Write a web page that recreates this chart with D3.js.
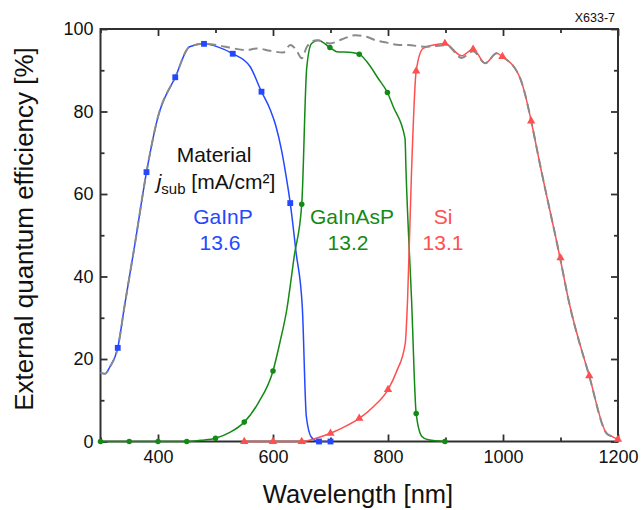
<!DOCTYPE html>
<html>
<head>
<meta charset="utf-8">
<script src="https://cdn.jsdelivr.net/npm/d3@7"></script>
<style>
    body { margin: 0; background: #fff; }
    svg { font-family: "Liberation Sans", Arial, sans-serif; }
</style>
</head>
<body>
<script>
'use strict';

// GaInP subcell (blue)
const gainpWl  = [300, 308, 316, 330, 342, 360, 380, 400, 430, 455, 480, 505, 530, 560, 580, 595, 605, 615, 622, 630, 640, 651, 658, 667, 680, 700];
const gainpEqe = [16.7, 16.4, 18, 22.7, 33, 48, 65.3, 78.7, 88.3, 95.7, 96.4, 95.6, 94, 90.9, 84.8, 80.5, 76.5, 70.5, 65, 57.8, 46, 32.5, 6, 1, 0, 0];
const gainpMarkWl  = [330, 380, 430, 480, 530, 580, 630, 680, 700];
const gainpMarkEqe = [22.7, 65.3, 88.3, 96.4, 94, 84.8, 57.8, 0, 0];

// GaInAsP subcell (green)
const gainaspWl  = [300, 350, 400, 450, 475, 500, 525, 550, 575, 600, 612, 624, 637, 650, 658.6, 667, 679, 687.5, 699, 711, 737, 750, 763, 783, 799, 809, 829.6, 831.3, 841, 849, 858.6, 870, 899];
const gainaspEqe = [0, 0, 0, 0, 0.3, 0.8, 2.2, 4.7, 9.5, 17.1, 24, 32, 45, 57.5, 90.5, 96.5, 97.3, 96.7, 95.5, 94.5, 94.3, 93.9, 92.1, 88, 84.6, 81.2, 73.5, 65.8, 34.3, 6.8, 1.3, 0.4, 0];
const gainaspMarkWl  = [300, 350, 400, 450, 500, 550, 600, 650, 699, 750, 799, 849, 899];
const gainaspMarkEqe = [0, 0, 0, 0, 0.8, 4.7, 17.1, 57.5, 95.5, 93.9, 84.6, 6.8, 0];

// Si subcell (red)
const siWl  = [550, 600, 650, 675, 700, 725, 750, 775, 800, 815, 830, 834, 841, 849, 861, 879, 899, 928, 948, 969, 989, 999, 1030, 1038, 1049, 1064, 1100, 1114, 1150, 1180, 1190, 1200];
const siEqe = [0, 0, 0, 0.8, 2, 3.6, 5.6, 8.5, 12.6, 17, 23.8, 34.3, 65.8, 89.8, 95.3, 96.1, 96.5, 93.5, 95.1, 91.7, 94.1, 93.3, 88, 84.4, 77.7, 67.4, 44, 34.3, 15.9, 2, 1.2, 0.5];
const siMarkWl  = [550, 600, 650, 700, 750, 800, 849, 899, 948, 999, 1049, 1100, 1150, 1200];
const siMarkEqe = [0, 0, 0, 2, 5.6, 12.6, 89.8, 96.5, 95.1, 93.3, 77.7, 44.5, 15.9, 0.5];

// sum of the subcells (grey dashed)
const totalWl  = [300, 308, 316, 330, 342, 360, 380, 400, 430, 455, 479, 502, 531, 554, 572, 595, 618, 630, 640, 650, 659, 676, 699, 720, 743, 763, 780, 798, 815, 835, 867, 902, 928, 948, 969, 989, 999, 1030, 1038, 1049, 1064, 1100, 1114, 1150, 1180, 1190, 1200];
const totalEqe = [16.7, 16.4, 18, 22.7, 33, 48, 65.3, 78.7, 88.3, 95.7, 96.4, 96.1, 95.3, 94.9, 95.3, 94.7, 94.3, 96.1, 95, 92.9, 95.7, 97.3, 96.5, 97.5, 98.5, 98.1, 97.2, 96.7, 96.2, 96.1, 95.7, 96.1, 93, 94.6, 91.7, 94.1, 93.3, 88, 84.4, 77.7, 67.4, 44, 34.3, 15.9, 2, 1.2, 0.8];

const xMajorTicks = [400, 600, 800, 1000, 1200];
const xMinorTicks = [300, 500, 700, 900, 1100];
const yMajorTicks = [0, 20, 40, 60, 80, 100];
const yMinorTicks = [10, 30, 50, 70, 90];

const cellNames = ['GaInP', 'GaInAsP', 'Si'];
const cellJsub  = ['13.6', '13.2', '13.1'];

(function() {

    const measurements = {
        width: 643,
        height: 510,
        left: 100.5,
        right: 618,
        top: 29,
        bottom: 441.5
    };

    const colors = {
        blue: '#2448ff',
        green: '#138a13',
        red: '#ff4f4f',
        grey: '#8a8a8a',
        axis: '#303030'
    };

    const svg = d3.select('body')
        .append('svg')
        .attr('width', measurements.width)
        .attr('height', measurements.height);

    const xScale = d3.scaleLinear()
        .domain([300, 1200])
        .range([measurements.left, measurements.right]);

    const yScale = d3.scaleLinear()
        .domain([0, 100])
        .range([measurements.bottom, measurements.top]);

    drawAxes();
    drawCurves();
    drawLabels();

    function zip(xs, ys) {
        return xs.map((x, i) => ({ x: x, y: ys[i] }));
    }

    function drawAxes() {
        // axis with inward ticks, labels only where asked
        function addAxis(axis, tx, ty, labels) {
            let g = svg.append('g')
                .attr('transform', 'translate(' + tx + ',' + ty + ')')
                .call(axis);
            g.select('.domain').remove();
            g.selectAll('.tick line')
                .attr('stroke', colors.axis)
                .attr('stroke-width', 1.8);
            if (!labels) g.selectAll('.tick text').remove();
            else g.selectAll('.tick text')
                .attr('fill', '#111')
                .style('font-size', '18px');
            return g;
        }

        addAxis(d3.axisBottom(xScale).tickValues(xMajorTicks).tickSize(-7).tickPadding(9).tickFormat(d3.format('d')), 0, measurements.bottom, true);
        addAxis(d3.axisBottom(xScale).tickValues(xMinorTicks).tickSize(-4), 0, measurements.bottom, false);
        addAxis(d3.axisTop(xScale).tickValues(xMajorTicks).tickSize(-7), 0, measurements.top, false);
        addAxis(d3.axisTop(xScale).tickValues(xMinorTicks).tickSize(-4), 0, measurements.top, false);

        addAxis(d3.axisLeft(yScale).tickValues(yMajorTicks).tickSize(-7).tickPadding(7), measurements.left, 0, true);
        addAxis(d3.axisLeft(yScale).tickValues(yMinorTicks).tickSize(-4), measurements.left, 0, false);
        addAxis(d3.axisRight(yScale).tickValues(yMajorTicks).tickSize(-7), measurements.right, 0, false);
        addAxis(d3.axisRight(yScale).tickValues(yMinorTicks).tickSize(-4), measurements.right, 0, false);

        // frame
        svg.append('rect')
            .attr('x', measurements.left)
            .attr('y', measurements.top)
            .attr('width', measurements.right - measurements.left)
            .attr('height', measurements.bottom - measurements.top)
            .attr('fill', 'none')
            .attr('stroke', colors.axis)
            .attr('stroke-width', 2);
    }

    function drawCurves() {
        let line = d3.line()
            .x((d) => xScale(d.x))
            .y((d) => yScale(d.y))
            .curve(d3.curveMonotoneX);

        let curves = [
            { data: zip(gainpWl, gainpEqe), color: colors.blue },
            { data: zip(gainaspWl, gainaspEqe), color: colors.green },
            { data: zip(siWl, siEqe), color: colors.red }
        ];

        curves.forEach((c) => {
            svg.append('path')
                .datum(c.data)
                .attr('d', line)
                .attr('fill', 'none')
                .attr('stroke', c.color)
                .attr('stroke-width', 1.5);
        });

        // total, grey dashed on top
        svg.append('path')
            .datum(zip(totalWl, totalEqe))
            .attr('d', line)
            .attr('fill', 'none')
            .attr('stroke', colors.grey)
            .attr('stroke-width', 2)
            .attr('stroke-dasharray', '9,5');

        // markers
        let markers = [
            { data: zip(gainpMarkWl, gainpMarkEqe), color: colors.blue, type: d3.symbolSquare, size: 34 },
            { data: zip(gainaspMarkWl, gainaspMarkEqe), color: colors.green, type: d3.symbolCircle, size: 24 },
            { data: zip(siMarkWl, siMarkEqe), color: colors.red, type: d3.symbolTriangle, size: 30 }
        ];

        markers.forEach((m) => {
            svg.append('g')
                .selectAll('path')
                .data(m.data)
                .enter()
                .append('path')
                .attr('transform', (d) => 'translate(' + xScale(d.x) + ',' + yScale(d.y) + ')')
                .attr('d', d3.symbol().type(m.type).size(m.size))
                .attr('fill', m.color);
        });
    }

    function drawLabels() {
        // axis titles
        svg.append('text')
            .attr('x', 358)
            .attr('y', 503)
            .attr('text-anchor', 'middle')
            .attr('fill', '#111')
            .style('font-size', '25.5px')
            .text('Wavelength [nm]');

        svg.append('text')
            .attr('transform', 'translate(33, 229)rotate(-90)')
            .attr('text-anchor', 'middle')
            .attr('fill', '#111')
            .style('font-size', '26px')
            .text('External quantum efficiency [%]');

        svg.append('text')
            .attr('x', 615)
            .attr('y', 22)
            .attr('text-anchor', 'end')
            .attr('fill', '#111')
            .style('font-size', '12.5px')
            .text('X633-7');

        // legend-like annotations
        svg.append('text')
            .attr('x', 214)
            .attr('y', 162)
            .attr('text-anchor', 'middle')
            .attr('fill', '#111')
            .style('font-size', '21px')
            .text('Material');

        let jsub = svg.append('text')
            .attr('x', 216)
            .attr('y', 189)
            .attr('text-anchor', 'middle')
            .attr('fill', '#111')
            .style('font-size', '21px');
        jsub.append('tspan').style('font-style', 'italic').text('j');
        jsub.append('tspan').attr('dy', 5).style('font-size', '15px').text('sub');
        jsub.append('tspan').attr('dy', -5).text(' [mA/cm²]');

        let namePos = [223, 352, 443];
        let numPos = [220, 348, 443];
        let nameColors = [colors.blue, colors.green, colors.red];

        cellNames.forEach((name, i) => {
            svg.append('text')
                .attr('x', namePos[i])
                .attr('y', 224)
                .attr('text-anchor', 'middle')
                .attr('fill', nameColors[i])
                .style('font-size', '21px')
                .text(name);
            svg.append('text')
                .attr('x', numPos[i])
                .attr('y', 250)
                .attr('text-anchor', 'middle')
                .attr('fill', nameColors[i])
                .style('font-size', '21px')
                .text(cellJsub[i]);
        });
    }
})();
</script>
</body>
</html>
